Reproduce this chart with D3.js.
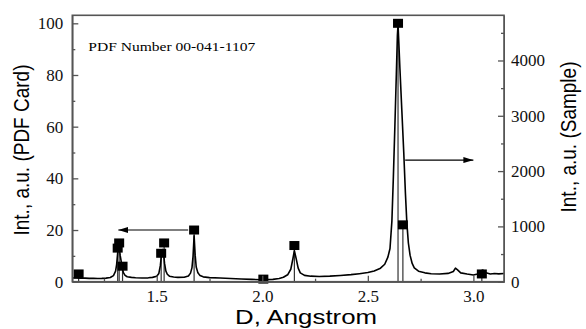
<!DOCTYPE html>
<html>
<head>
<meta charset="utf-8">
<script src="https://cdn.jsdelivr.net/npm/d3@7"></script>
<style>
  body { margin: 0; background: #fff; }
  .axis path, .axis line { stroke: #555; }
</style>
</head>
<body>
<div id="chart"></div>
<script>
// PDF card lines (left axis)
var cardD = [1.13, 1.315, 1.322, 1.338, 1.521, 1.535, 1.677, 2.005, 2.152, 2.643, 2.666, 3.04];
var cardI = [3, 13, 15, 6, 11, 15, 20, 1, 14, 100, 22, 3];

// measured pattern (right axis)
var sampleD = [1.10, 1.12, 1.14, 1.16, 1.18, 1.20, 1.22, 1.24, 1.26, 1.28, 1.295, 1.305, 1.31, 1.315, 1.319, 1.323, 1.327, 1.331, 1.336, 1.342, 1.35, 1.36, 1.38, 1.40, 1.43, 1.46, 1.48, 1.50, 1.51, 1.517, 1.522, 1.527, 1.532, 1.537, 1.543, 1.55, 1.56, 1.58, 1.60, 1.63, 1.65, 1.66, 1.667, 1.672, 1.677, 1.682, 1.687, 1.695, 1.705, 1.72, 1.75, 1.80, 1.85, 1.90, 1.95, 2.00, 2.05, 2.08, 2.10, 2.12, 2.135, 2.145, 2.152, 2.16, 2.17, 2.18, 2.20, 2.23, 2.27, 2.32, 2.37, 2.42, 2.46, 2.50, 2.53, 2.56, 2.58, 2.595, 2.605, 2.614, 2.621, 2.628, 2.635, 2.640, 2.643, 2.647, 2.652, 2.661, 2.670, 2.678, 2.685, 2.692, 2.70, 2.71, 2.72, 2.74, 2.77, 2.80, 2.84, 2.88, 2.905, 2.915, 2.925, 2.94, 2.97, 3.00, 3.02, 3.035, 3.045, 3.06, 3.08, 3.10, 3.12, 3.145];
var sampleCounts = [70, 66, 62, 64, 60, 62, 58, 60, 64, 75, 110, 190, 310, 520, 640, 600, 470, 380, 260, 165, 115, 90, 78, 72, 68, 70, 78, 100, 150, 290, 470, 580, 520, 330, 195, 135, 100, 85, 78, 80, 105, 155, 255, 460, 830, 480, 265, 160, 110, 88, 74, 66, 58, 50, 42, 36, 42, 58, 80, 125, 225, 415, 560, 425, 245, 160, 115, 100, 95, 100, 112, 128, 145, 165, 195, 245, 315, 445, 600, 1100, 1900, 2800, 3750, 4450, 4650, 4300, 3850, 3100, 2350, 1600, 1050, 700, 480, 330, 250, 190, 160, 145, 140, 150, 185, 245, 215, 160, 138, 120, 140, 195, 210, 160, 138, 148, 142, 148];

var xTicks = [1.5, 2.0, 2.5, 3.0];
var xMinor = [1.25, 1.75, 2.25, 2.75];
var yLeftTicks = [0, 20, 40, 60, 80, 100];
var yLeftMinor = [10, 30, 50, 70, 90];
var yRightTicks = [0, 1000, 2000, 3000, 4000];
var yRightMinor = [500, 1500, 2500, 3500, 4500];

var serif = "'Liberation Serif', 'Times New Roman', 'DejaVu Serif', serif";
var sans = "'Liberation Sans', Arial, sans-serif";

function drawChart() {
    var width = 586
    var height = 329

    var svg = d3.select("#chart").append("svg")
        .attr("width", width)
        .attr("height", height);

    var mLeft = 72.3, mRight = 504, mTop = 15.3, mBottom = 281.7;

    var x = d3.scaleLinear().domain([1.1, 3.145]).range([mLeft, mRight]);
    var yL = d3.scaleLinear().domain([0, 103.1]).range([mBottom, mTop]);
    var yR = d3.scaleLinear().domain([0, 4817]).range([mBottom, mTop]);

    // arrow head
    svg.append("defs").append("marker")
        .attr("id", "head")
        .attr("viewBox", "0 0 10 6")
        .attr("refX", 10).attr("refY", 3)
        .attr("markerWidth", 10).attr("markerHeight", 6)
        .attr("markerUnits", "userSpaceOnUse")
        .attr("orient", "auto")
        .append("path").attr("d", "M0,0L10,3L0,6Z").attr("fill", "#000");

    // sticks of the PDF card
    svg.append("g").selectAll("line")
        .data(cardD)
        .enter().append("line")
        .attr("x1", function (d) { return x(d); })
        .attr("x2", function (d) { return x(d); })
        .attr("y1", yL(0))
        .attr("y2", function (d, i) { return yL(cardI[i]); })
        .attr("stroke", "#333")
        .attr("stroke-width", 1.2);

    // sample curve
    var line = d3.line()
        .x(function (d, i) { return x(sampleD[i]); })
        .y(function (d) { return yR(d); });

    svg.append("path")
        .datum(sampleCounts)
        .attr("d", line)
        .attr("fill", "none")
        .attr("stroke", "#000")
        .attr("stroke-width", 1.6)
        .attr("stroke-linejoin", "round");

    // square markers
    svg.append("g").selectAll("rect")
        .data(cardD)
        .enter().append("rect")
        .attr("x", function (d) { return x(d) - 5; })
        .attr("y", function (d, i) { return yL(cardI[i]) - 4.5; })
        .attr("width", 10)
        .attr("height", 9)
        .attr("fill", "#000");

    // axes, ticks pointing inward
    svg.append("g").attr("class", "axis")
        .attr("transform", "translate(0," + mBottom + ")")
        .call(d3.axisBottom(x).tickValues(xTicks).tickFormat(d3.format(".1f")).tickSizeInner(-6).tickSizeOuter(0).tickPadding(8));
    svg.append("g").attr("class", "axis")
        .attr("transform", "translate(0," + mBottom + ")")
        .call(d3.axisBottom(x).tickValues(xMinor).tickFormat("").tickSizeInner(-3).tickSizeOuter(0));

    svg.append("g").attr("class", "axis")
        .attr("transform", "translate(" + mLeft + ",0)")
        .call(d3.axisLeft(yL).tickValues(yLeftTicks).tickFormat(d3.format("d")).tickSizeInner(-6).tickSizeOuter(0).tickPadding(9));
    svg.append("g").attr("class", "axis")
        .attr("transform", "translate(" + mLeft + ",0)")
        .call(d3.axisLeft(yL).tickValues(yLeftMinor).tickFormat("").tickSizeInner(-3).tickSizeOuter(0));

    svg.append("g").attr("class", "axis")
        .attr("transform", "translate(" + mRight + ",0)")
        .call(d3.axisRight(yR).tickValues(yRightTicks).tickFormat(d3.format("d")).tickSizeInner(-6).tickSizeOuter(0).tickPadding(7));
    svg.append("g").attr("class", "axis")
        .attr("transform", "translate(" + mRight + ",0)")
        .call(d3.axisRight(yR).tickValues(yRightMinor).tickFormat("").tickSizeInner(-3).tickSizeOuter(0));

    svg.selectAll(".axis line").attr("stroke-width", 1.3);
    svg.selectAll(".axis text")
        .style("font-family", serif)
        .style("font-size", "17px")
        .style("fill", "#111");

    // frame
    svg.append("rect")
        .attr("x", mLeft).attr("y", mTop)
        .attr("width", mRight - mLeft).attr("height", mBottom - mTop)
        .attr("fill", "none")
        .attr("stroke", "#555")
        .attr("stroke-width", 1.6);

    // arrows
    svg.append("line")
        .attr("x1", x(1.649)).attr("x2", x(1.318))
        .attr("y1", yL(20)).attr("y2", yL(20))
        .attr("stroke", "#000").attr("stroke-width", 1.2)
        .attr("marker-end", "url(#head)");
    svg.append("line")
        .attr("x1", x(2.677)).attr("x2", x(3.0))
        .attr("y1", yR(2200)).attr("y2", yR(2200))
        .attr("stroke", "#000").attr("stroke-width", 1.2)
        .attr("marker-end", "url(#head)");

    // texts
    svg.append("text")
        .attr("x", 88.3).attr("y", 50.7)
        .attr("textLength", 167).attr("lengthAdjust", "spacingAndGlyphs")
        .style("font-family", serif)
        .style("font-size", "13px")
        .text("PDF Number 00-041-1107");

    svg.append("text")
        .attr("x", 306).attr("y", 324)
        .attr("text-anchor", "middle")
        .attr("textLength", 142).attr("lengthAdjust", "spacingAndGlyphs")
        .style("font-family", sans)
        .style("font-size", "21px")
        .text("D, Angstrom");

    svg.append("text")
        .attr("transform", "translate(29,150) scale(1.15,1) rotate(-90)")
        .attr("text-anchor", "middle")
        .style("font-family", sans)
        .style("font-size", "19px")
        .text("Int., a.u. (PDF Card)");

    svg.append("text")
        .attr("transform", "translate(576,137) scale(1.15,1) rotate(-90)")
        .attr("text-anchor", "middle")
        .style("font-family", sans)
        .style("font-size", "19px")
        .text("Int., a.u. (Sample)");
}

drawChart();
</script>
</body>
</html>
